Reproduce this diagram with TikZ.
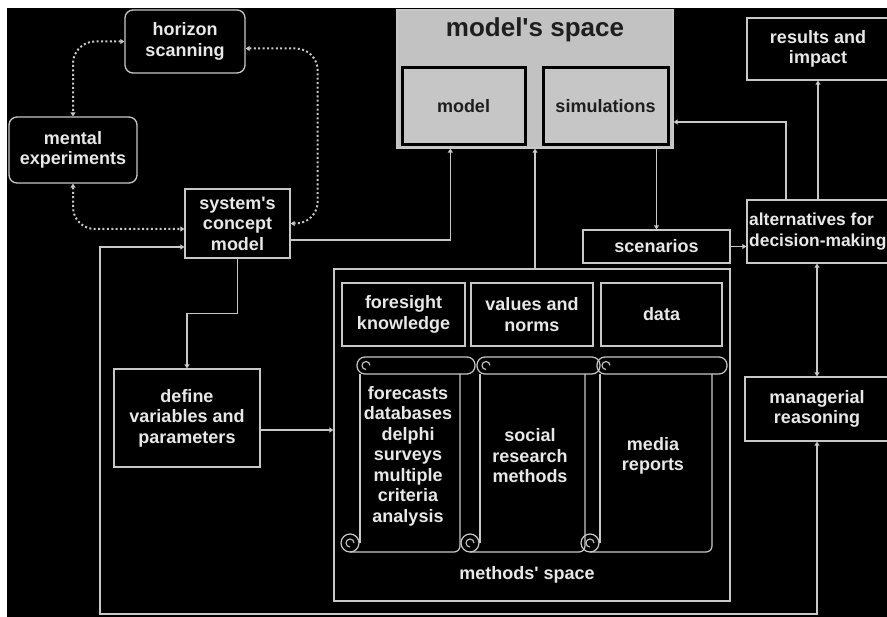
\documentclass[tikz,border=0pt]{standalone}
\usepackage{fontspec}
\setmainfont{Liberation Sans}
\usetikzlibrary{arrows.meta,calc}
\definecolor{ln}{HTML}{C8C8C8}
\definecolor{tx}{HTML}{E8E8E8}
\definecolor{msfill}{HTML}{C2C2C2}
\definecolor{ibfill}{HTML}{C6C6C6}
\definecolor{dark}{HTML}{1E1E1E}
\newcommand\myscroll[4]{%
 \draw[ln, line width=1.2pt, rounded corners=8pt] ({#1-3},#3) rectangle ({#2+15},{#3+17});
 \draw[ln, line width=1.2pt] ({#1},{#3+17}) -- ({#1},{#4-9});
 \draw[ln, line width=1.2pt, rounded corners=6pt] ({#2},{#3+17}) -- ({#2},{#4}) -- ({#1-10},{#4});
 \draw[ln, line width=1.2pt] ({#1-10},{#4-9}) circle (9pt);
 \draw[ln, line width=1.1pt] ({#1-6},{#4-9}) arc[start angle=0, end angle=270, radius=4pt];
 \draw[ln, line width=1.1pt] ({#1+10},{#3+8.5}) arc[start angle=0, end angle=270, radius=4pt];
}
\begin{document}
\begin{tikzpicture}[x=1pt,y=-1pt,
  tfont/.style={font=\bfseries\fontsize{18}{20.5}\selectfont},
  box/.style={draw=ln, line width=1.3pt, text=tx, tfont, align=center, inner sep=0pt},
  rbox/.style={box, rounded corners=8pt},
  ibox/.style={draw=black, line width=3pt, fill=ibfill, text=dark, tfont, inner sep=0pt},
  txt/.style={text=tx, tfont, align=center, inner sep=0pt},
  tip/.tip={Triangle[width=5pt,length=4pt]},
  arr/.style={draw=ln, line width=1.3pt, -tip},
  darr/.style={draw=ln, line width=1.3pt, tip-tip},
  dots/.style={draw=ln, line width=2pt, dash pattern=on 2pt off 2.4pt, tip-tip, rounded corners=22pt},
]
\useasboundingbox (0,0) rectangle (887,617);
\clip (0,0) rectangle (887,617);
\fill[white] (0,0) rectangle (887,617);
\fill[black] (7,8) rectangle (887,617);

% left cluster
\node[rbox, minimum width=120pt, minimum height=63pt] (hor) at (185,41.5) {horizon\\scanning};
\node[rbox, minimum width=128pt, minimum height=66pt] (men) at (73,150) {mental\\experiments};
\node[box, minimum width=105pt, minimum height=69pt] (sys) at (237.5,223.5) {system\textquotesingle s\\concept\\model};
\node[box, minimum width=146pt, minimum height=98pt] (def) at (187,418) {define\\variables and\\parameters};

% model's space
\node[draw=ln, line width=1.3pt, fill=msfill, minimum width=276pt, minimum height=138pt, inner sep=0pt] (ms) at (535,79) {};
\node[text=dark, font=\bfseries\fontsize{26}{28}\selectfont, inner sep=0pt] (mst) at (535,30) {model\textquotesingle s space};
\node[ibox, minimum width=123pt, minimum height=77pt] (mod) at (463.5,106.5) {model};
\node[ibox, minimum width=125pt, minimum height=77pt] (sim) at (605.5,106.5) {simulations};

% right column
\node[box, minimum width=142pt, minimum height=62pt] (res) at (818,49) {results and\\impact};
\node[box, minimum width=146pt, minimum height=63pt] (alt) at (820,231.5) {};
\node[txt, anchor=west, align=left, font=\bfseries\fontsize{17.4}{20.5}\selectfont] (altt) at (749,231.5) {alternatives for\\decision-making};
\node[box, minimum width=147pt, minimum height=33pt] (sce) at (656.5,246.5) {scenarios};
\node[box, minimum width=144pt, minimum height=64pt] (man) at (817,409) {managerial\\reasoning};

% methods' space
\node[box, minimum width=396pt, minimum height=332pt] (met) at (532,435) {};
\node[txt] (metl) at (527,575) {methods\textquotesingle\ space};
\node[box, minimum width=123pt, minimum height=63pt] (for) at (403.5,314.5) {foresight\\knowledge};
\node[box, minimum width=122pt, minimum height=63pt] (val) at (532,314.5) {values and\\norms};
\node[box, minimum width=121pt, minimum height=63pt] (dat) at (661.5,314.5) {data};

\myscroll{360}{460}{357}{552}
\myscroll{480}{585}{357}{552}
\myscroll{600}{712}{357}{552}
\node[txt] (s1t) at (408,456) {forecasts\\databases\\delphi\\surveys\\multiple\\criteria\\analysis};
\node[txt] (s2t) at (530,456) {social\\research\\methods};
\node[txt] (s3t) at (653,456) {media\\reports};

% dotted connectors
\draw[dots] (hor.west) -| (men.north);
\draw[dots] ([yshift=-7pt]hor.east) -| ($(sys.east)+(27,0)$) -- (sys.east);
\draw[dots] (men.south) |- ([yshift=-5.5pt]sys.west);

% solid connectors
\draw[arr] ([yshift=-16.5pt]sys.east) -| ($(ms.south west)+(54,0)$);
\draw[arr] (ms.south |- met.north) -- (ms.south);
\draw[arr] (sce.north |- ms.south) -- (sce.north);
\draw[arr] (sce.east) -- (sce.east -| alt.west);
\draw[arr] ([xshift=-34pt]alt.north) |- ([yshift=-43pt]ms.east);
\draw[arr] (res.south |- alt.north) -- (res.south);
\draw[darr] (man.north) -- (man.north |- alt.south);
\coordinate (lc) at (100,614);
\draw[darr] ([yshift=-23.5pt]sys.west) -| (lc) -| (man.south);
\draw[arr] (sys.south) -- ++(0,55) -| (def.north);
\draw[arr] ([yshift=-12pt]def.east) -- ([yshift=-12pt]def.east -| met.west);
\end{tikzpicture}
\end{document}
